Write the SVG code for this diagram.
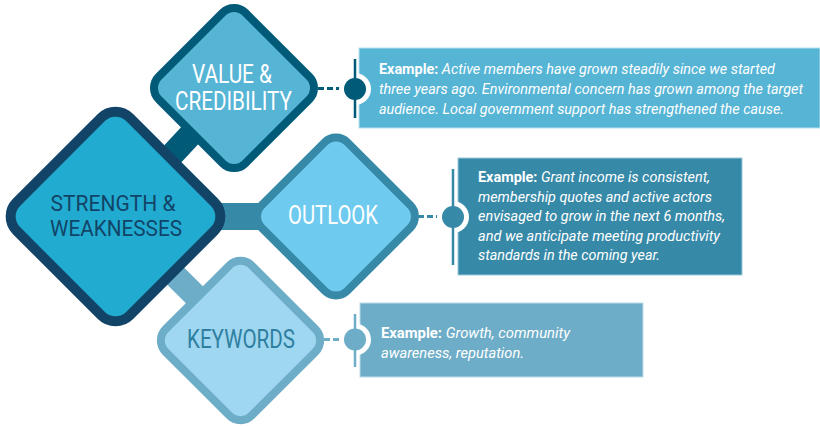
<svg xmlns="http://www.w3.org/2000/svg" width="820" height="426" viewBox="0 0 820 426">
<style>
.lbl{font-family:Roboto,"Liberation Sans",sans-serif;font-size:25px;text-anchor:middle}
.sm{font-size:22.5px}
.ex{font-family:Roboto,"Liberation Sans",sans-serif;font-size:14.5px;fill:#ffffff;font-style:italic}
.ex .b{font-weight:bold;font-style:normal}
.dash{stroke-width:3;stroke-dasharray:6 3;fill:none}
</style>
<g id="connectors">
  <line x1="115" y1="216" x2="234" y2="88" stroke="#015a77" stroke-width="24"/>
  <line x1="115" y1="216.5" x2="336" y2="216.5" stroke="#3789a8" stroke-width="27"/>
  <line x1="115" y1="216" x2="240" y2="340" stroke="#6dadc7" stroke-width="24"/>
  <line x1="318" y1="88.5" x2="344" y2="88.5" stroke="#015a77" class="dash"/>
  <line x1="418" y1="216.5" x2="442" y2="216.5" stroke="#3789a8" class="dash"/>
  <line x1="324" y1="339.5" x2="344" y2="339.5" stroke="#6dadc7" class="dash"/>
</g>
<g id="strength">
  <rect x="-80" y="-80" width="160" height="160" rx="20" transform="translate(115.5,216.5) rotate(45)" fill="#21abd0" stroke="#124467" stroke-width="10"/>
  <text class="lbl sm" x="113" y="211" fill="#124467" textLength="125" lengthAdjust="spacingAndGlyphs">STRENGTH &amp;</text>
  <text class="lbl sm" x="116" y="236" fill="#124467" textLength="132" lengthAdjust="spacingAndGlyphs">WEAKNESSES</text>
</g>
<g id="value">
  <rect x="-61.25" y="-61.25" width="122.5" height="122.5" rx="16" transform="translate(234,88) rotate(45)" fill="#56b4d5" stroke="#015a77" stroke-width="8"/>
  <text class="lbl" x="232" y="83" fill="#ffffff" textLength="80" lengthAdjust="spacingAndGlyphs">VALUE &amp;</text>
  <text class="lbl" x="233.5" y="110" fill="#ffffff" textLength="117" lengthAdjust="spacingAndGlyphs">CREDIBILITY</text>
</g>
<g id="outlook">
  <rect x="-60.5" y="-60.5" width="121" height="121" rx="16" transform="translate(336,216.5) rotate(45)" fill="#6fcaef" stroke="#3789a8" stroke-width="8"/>
  <text class="lbl" x="333" y="224" fill="#ffffff" textLength="90" lengthAdjust="spacingAndGlyphs">OUTLOOK</text>
</g>
<g id="keywords">
  <rect x="-61" y="-61" width="122" height="122" rx="16" transform="translate(240.5,340.5) rotate(45)" fill="#9fd6f0" stroke="#6dadc7" stroke-width="8"/>
  <text class="lbl" x="241" y="348" fill="#2e7fa0" textLength="108" lengthAdjust="spacingAndGlyphs">KEYWORDS</text>
</g>
<g id="callout-value">
  <rect x="359" y="48" width="461" height="80" fill="#56b4d5" stroke="#b5dfee" stroke-width="1"/>
  <circle cx="355" cy="89" r="16" fill="#ffffff"/>
  <line x1="355" y1="59" x2="355" y2="118" stroke="#015a77" stroke-width="2.5"/>
  <circle cx="355" cy="89" r="11" fill="#015a77"/>
  <text class="ex" x="379" y="74" textLength="396" lengthAdjust="spacingAndGlyphs"><tspan class="b">Example:</tspan> Active members have grown steadily since we started</text>
  <text class="ex" x="379" y="94" textLength="424" lengthAdjust="spacingAndGlyphs">three years ago. Environmental concern has grown among the target</text>
  <text class="ex" x="379" y="114" textLength="405" lengthAdjust="spacingAndGlyphs">audience. Local government support has strengthened the cause.</text>
</g>
<g id="callout-outlook">
  <rect x="458" y="158" width="284" height="117" fill="#3789a8" stroke="#9cc9da" stroke-width="1"/>
  <circle cx="453" cy="217" r="16" fill="#ffffff"/>
  <line x1="453" y1="169" x2="453" y2="265" stroke="#3789a8" stroke-width="2.5"/>
  <circle cx="453" cy="217" r="11" fill="#3789a8"/>
  <text class="ex" x="478" y="182" textLength="232" lengthAdjust="spacingAndGlyphs"><tspan class="b">Example:</tspan> Grant income is consistent,</text>
  <text class="ex" x="478" y="201.5" textLength="234" lengthAdjust="spacingAndGlyphs">membership quotes and active actors</text>
  <text class="ex" x="478" y="221" textLength="247" lengthAdjust="spacingAndGlyphs">envisaged to grow in the next 6 months,</text>
  <text class="ex" x="478" y="240.5" textLength="242" lengthAdjust="spacingAndGlyphs">and we anticipate meeting productivity</text>
  <text class="ex" x="478" y="260" textLength="182" lengthAdjust="spacingAndGlyphs">standards in the coming year.</text>
</g>
<g id="callout-keywords">
  <rect x="360" y="303" width="283" height="74" fill="#6dadc7" stroke="#bcdce8" stroke-width="1"/>
  <circle cx="355" cy="339.5" r="16" fill="#ffffff"/>
  <line x1="355" y1="314" x2="355" y2="367" stroke="#6dadc7" stroke-width="2.5"/>
  <circle cx="355" cy="339.5" r="11" fill="#6dadc7"/>
  <text class="ex" x="381" y="338" textLength="189" lengthAdjust="spacingAndGlyphs"><tspan class="b">Example:</tspan> Growth, community</text>
  <text class="ex" x="381" y="358" textLength="143" lengthAdjust="spacingAndGlyphs">awareness, reputation.</text>
</g>
</svg>
